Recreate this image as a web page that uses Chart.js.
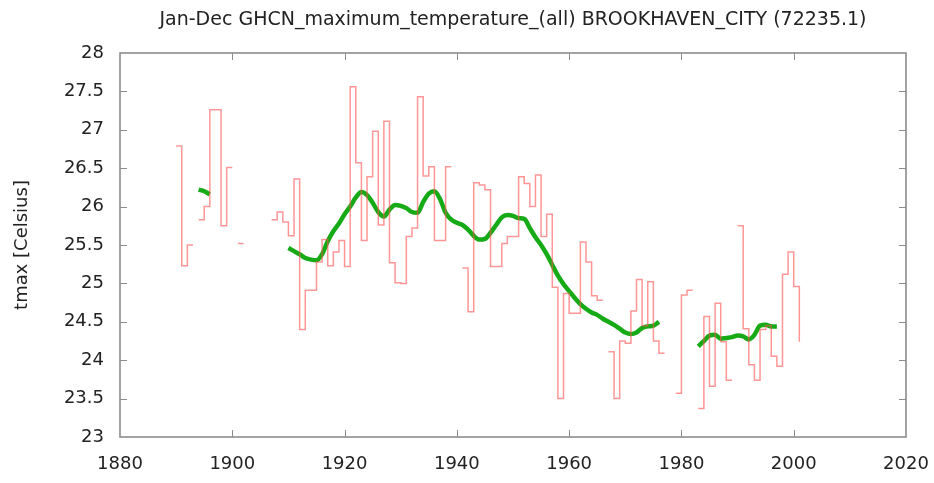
<!DOCTYPE html>
<html>
<head>
<meta charset="utf-8">
<script src="https://cdn.jsdelivr.net/npm/chart.js@4.4.1/dist/chart.umd.min.js"></script>
<style>
  html, body { margin: 0; padding: 0; background: #fff; }
  #wrap { width: 934px; height: 483px; }
</style>
</head>
<body>
<div id="wrap"><canvas id="chart" width="934" height="483"></canvas></div>
<script>
const TITLE = 'Jan-Dec GHCN_maximum_temperature_(all) BROOKHAVEN_CITY (72235.1)';
const Y_TITLE = 'tmax [Celsius]';

// years 1890..2001
const years = [];
for (let y = 1890; y <= 2001; y++) years.push(y);

// annual mean of daily max temperature (red steps), null = missing
const tmax = [
  26.79, 25.23, 25.50, null, 25.83, 26.00, 27.26, 27.26, 25.75, 26.51,   // 1890-1899
  null, 25.52, null, null, null, null, null, 25.83, 25.93, 25.80,         // 1900-1909
  25.62, 26.36, 24.40, 24.91, 24.91, 25.28, 25.57, 25.23, 25.41, 25.56,   // 1910-1919
  25.22, 27.56, 26.57, 25.56, 26.39, 26.98, 25.76, 27.11, 25.27, 25.01,   // 1920-1929
  25.00, 25.61, 25.72, 27.43, 26.40, 26.52, 25.56, 25.56, 26.52, null,    // 1930-1939
  null, 25.20, 24.63, 26.31, 26.28, 26.22, 25.22, 25.22, 25.52, 25.61,    // 1940-1949
  25.61, 26.39, 26.30, 26.00, 26.41, 25.61, 25.90, 24.95, 23.50, 24.87,   // 1950-1959
  24.61, 24.61, 25.54, 25.28, 24.84, 24.78, null, 24.11, 23.50, 24.25,    // 1960-1969
  24.22, 24.64, 25.05, 24.45, 25.02, 24.25, 24.09, null, null, 23.57,     // 1970-1979
  24.85, 24.91, null, 23.37, 24.57, 23.66, 24.74, 24.24, 23.74, null,     // 1980-1989
  25.75, 24.41, 23.94, 23.74, 24.40, 24.45, 24.05, 23.92, 25.12, 25.41,   // 1990-1999
  24.96, 24.24                                                            // 2000-2001
];

// smoothed curve (green)
const smooth = [
  null, null, null, null, 26.22, 26.20, 26.16, null, null, null,          // 1890-1899
  null, null, null, null, null, null, null, null, null, null,             // 1900-1909
  25.46, 25.42, 25.38, 25.33, 25.31, 25.30, 25.38, 25.55, 25.68, 25.78,   // 1910-1919
  25.90, 26.00, 26.12, 26.19, 26.15, 26.05, 25.93, 25.87, 25.96, 26.02,   // 1920-1929
  26.01, 25.98, 25.93, 25.92, 26.06, 26.17, 26.20, 26.10, 25.92, 25.83,   // 1930-1939
  25.79, 25.76, 25.70, 25.62, 25.57, 25.58, 25.66, 25.76, 25.86, 25.89,   // 1940-1949
  25.88, 25.85, 25.84, 25.72, 25.60, 25.50, 25.38, 25.24, 25.10, 24.99,   // 1950-1959
  24.90, 24.81, 24.73, 24.67, 24.62, 24.59, 24.54, 24.50, 24.46, 24.41,   // 1960-1969
  24.36, 24.34, 24.36, 24.42, 24.44, 24.45, 24.50, null, null, null,      // 1970-1979
  null, null, null, 24.18, 24.25, 24.32, 24.33, 24.28, 24.29, 24.30,      // 1980-1989
  24.32, 24.31, 24.27, 24.33, 24.45, 24.46, 24.44, 24.44, null, null,     // 1990-1999
  null, null                                                              // 2000-2001
];

const xTicks = [1880, 1900, 1920, 1940, 1960, 1980, 2000, 2020];
const yTicks = [23, 23.5, 24, 24.5, 25, 25.5, 26, 26.5, 27, 27.5, 28];

// each year covers [year, year+1]
const stepPts = [];
years.forEach((yr, i) => {
  const v = tmax[i];
  if (v === null) { stepPts.push({x: yr, y: null}); return; }
  stepPts.push({x: yr, y: v});
  if (i < years.length - 1) stepPts.push({x: yr + 1, y: v});
});
const smoothPts = years.map((yr, i) => ({x: yr, y: smooth[i]}));

const FONT = 'DejaVu Sans';
const TEXT = '#222';

const frame = {
  id: 'frame',
  afterDraw(chart) {
    const {ctx, chartArea: a, scales: {x, y}} = chart;
    ctx.save();
    ctx.strokeStyle = '#8c8c8c';
    ctx.lineWidth = 1.6;
    ctx.strokeRect(a.left, a.top, a.right - a.left, a.bottom - a.top);
    ctx.lineWidth = 1;
    ctx.beginPath();
    x.ticks.forEach(t => {
      const px = Math.round(x.getPixelForValue(t.value)) + 0.5;
      if (px < a.left + 2 || px > a.right - 2) return;
      ctx.moveTo(px, a.bottom); ctx.lineTo(px, a.bottom - 7);
      ctx.moveTo(px, a.top); ctx.lineTo(px, a.top + 7);
    });
    y.ticks.forEach(t => {
      const py = Math.round(y.getPixelForValue(t.value)) + 0.5;
      if (py < a.top + 2 || py > a.bottom - 2) return;
      ctx.moveTo(a.left, py); ctx.lineTo(a.left + 7, py);
      ctx.moveTo(a.right, py); ctx.lineTo(a.right - 7, py);
    });
    ctx.stroke();
    // title over the plot area
    ctx.fillStyle = TEXT;
    ctx.font = '19px "' + FONT + '"';
    ctx.textAlign = 'center';
    ctx.textBaseline = 'middle';
    ctx.fillText(TITLE, (a.left + a.right) / 2, 20);
    ctx.restore();
  }
};

new Chart(document.getElementById('chart'), {
  type: 'line',
  data: {
    datasets: [{
      label: 'tmax',
      data: stepPts,
      borderColor: 'rgba(255, 80, 80, 0.6)',
      borderWidth: 1.5,
      pointRadius: 0,
      spanGaps: false,
      tension: 0
    }, {
      label: 'smoothed',
      data: smoothPts,
      borderColor: '#16aa16',
      borderWidth: 4.5,
      pointRadius: 0,
      spanGaps: false,
      cubicInterpolationMode: 'monotone'
    }]
  },
  options: {
    responsive: false,
    animation: false,
    layout: { padding: { top: 53, right: 28, left: 0, bottom: 0 } },
    plugins: {
      legend: { display: false },
      tooltip: { enabled: false },
      title: { display: false }
    },
    scales: {
      x: {
        type: 'linear',
        min: 1880, max: 2020,
        afterBuildTicks: s => { s.ticks = xTicks.map(v => ({value: v})); },
        afterFit: s => { s.height = 46; s.paddingLeft = 0; s.paddingRight = 0; },
        grid: { display: false, drawTicks: false },
        border: { display: false },
        ticks: {
          padding: 17,
          color: TEXT,
          font: { family: FONT, size: 18 },
          maxRotation: 0,
          callback: v => String(v)
        }
      },
      y: {
        type: 'linear',
        min: 23, max: 28,
        afterBuildTicks: s => { s.ticks = yTicks.map(v => ({value: v})); },
        afterFit: s => { s.width = 120; s.paddingTop = 0; s.paddingBottom = 0; },
        grid: { display: false, drawTicks: false },
        border: { display: false },
        ticks: {
          padding: 16,
          color: TEXT,
          font: { family: FONT, size: 18 },
          callback: v => String(v)
        },
        title: {
          display: true,
          text: Y_TITLE,
          color: TEXT,
          font: { family: FONT, size: 18 },
          padding: { top: 12, bottom: 0 }
        }
      }
    }
  },
  plugins: [frame]
});
</script>
</body>
</html>
